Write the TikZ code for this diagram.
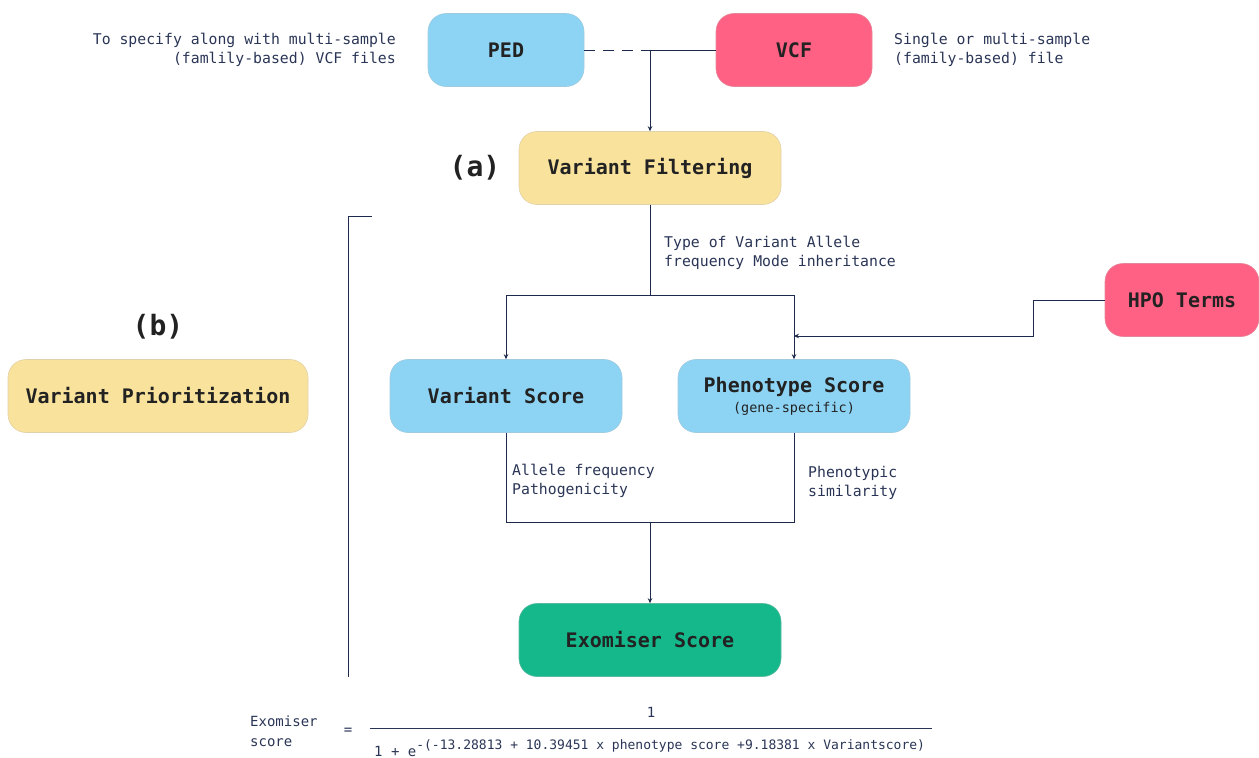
\documentclass[tikz,border=0pt]{standalone}
\usepackage{fontspec}
\setmonofont{DejaVu Sans Mono}
\setmainfont{DejaVu Sans Mono}
\usetikzlibrary{arrows.meta}
\definecolor{cblue}{HTML}{8DD4F4}
\definecolor{cpink}{HTML}{FF6184}
\definecolor{cyellow}{HTML}{F9E29C}
\definecolor{cgreen}{HTML}{15B88A}
\definecolor{cline}{HTML}{1E2A4C}
\definecolor{ctext}{HTML}{222222}
\definecolor{cnote}{HTML}{2A3556}
\tikzset{
  box/.style={rounded corners=18pt, minimum width=156pt, minimum height=73pt, inner sep=0pt,
    font=\fontsize{20}{22}\selectfont\bfseries, text=ctext, align=center},
  wbox/.style={box, minimum width=262pt},
  mbox/.style={box, minimum width=232pt},
  bluebox/.style={fill=cblue, draw=cblue!85!black!70, line width=0.6pt},
  pinkbox/.style={fill=cpink, draw=cpink!85!black!70, line width=0.6pt},
  yellowbox/.style={fill=cyellow, draw=cyellow!85!black!70, line width=0.6pt},
  greenbox/.style={fill=cgreen, draw=cgreen!85!black!70, line width=0.6pt},
  conn/.style={draw=cline, line width=0.9pt},
  arr/.style={conn, -{Stealth[length=5pt,width=4.5pt]}},
  note/.style={font=\fontsize{14.8}{19.5}\selectfont, text=cnote, inner sep=0pt},
  lbl/.style={font=\fontsize{28}{30}\selectfont\bfseries, text=ctext, inner sep=0pt},
  fml/.style={font=\fontsize{14}{20}\selectfont, text=cnote, inner sep=0pt},
}
\begin{document}
\begin{tikzpicture}[x=1pt,y=-1pt]
\useasboundingbox (0,0) rectangle (1259,758);
% nodes
\node[box,bluebox] (ped) at (506,50) {PED};
\node[box,pinkbox] (vcf) at (794,50) {VCF};
\node[wbox,yellowbox] (vf) at (650,168) {Variant Filtering};
\node[box,pinkbox, minimum width=154pt] (hpo) at (1182,300) {HPO Terms};
\node[mbox,bluebox] (vs) at (506,396) {Variant Score};
\node[mbox,bluebox] (ps) at (794,396) {Phenotype Score\\[-2pt]{\fontsize{13.5}{15}\selectfont\mdseries (gene-specific)}};
\node[wbox,greenbox] (ex) at (650,640) {Exomiser Score};
\node[box,yellowbox, minimum width=300pt] (vp) at (158,396) {Variant Prioritization};
% labels
\node[lbl] (la) at (475,168) {(a)};
\node[lbl] (lb) at (158,327) {(b)};
\node[note, anchor=east, align=right] (nped) at (396,50) {To specify along with multi-sample\\(famlily-based) VCF files};
\node[note, anchor=west, align=left] (nvcf) at (894,50) {Single or multi-sample\\(family-based) file};
\node[note, anchor=west, align=left] (nvf) at (664,253) {Type of Variant Allele\\frequency Mode inheritance};
\node[note, anchor=west, align=left] (nvs) at (512,481) {Allele frequency\\Pathogenicity};
\node[note, anchor=west, align=left] (nps) at (808,483) {Phenotypic\\similarity};
% connectors
\coordinate (tj) at (650,50);
\draw[conn, dash pattern=on 11pt off 8pt] (ped.east) -- (tj);
\draw[conn] (tj) -- (vcf.west);
\draw[arr] (tj) -- (vf.north);
\coordinate (sp) at (650,295);
\draw[conn] (vf.south) -- (sp);
\draw[arr] (sp) -| (vs.north);
\draw[arr] (sp) -| (ps.north);
\coordinate (hj) at (794,336);
\draw[arr] (hpo.west) -- (1033,300) -- (1033,336) -- (hj);
\coordinate (mj) at (650,522);
\draw[conn] (vs.south) |- (mj);
\draw[conn] (ps.south) |- (mj);
\draw[arr] (mj) -- (ex.north);
% bracket
\coordinate (bt) at (372,216);
\coordinate (bb) at (348,677);
\draw[conn] (bt) -- (348,216) -- (bb);
% formula
\node[fml, anchor=west, align=left] (fl) at (250,731) {Exomiser\\score};
\node[fml] (feq) at (348,731) {=};
\node[fml] (fn) at (651,712) {1};
\coordinate (fa) at (370,728);
\coordinate (fb) at (932,728);
\draw[draw=cnote, line width=0.9pt] (fa) -- (fb);
\node[fml, anchor=west] (fd) at (374,748) {1 + e\raisebox{7pt}{\fontsize{13}{14}\selectfont -(-13.28813 + 10.39451 x phenotype score +9.18381 x Variantscore)}};
\end{tikzpicture}
\end{document}
